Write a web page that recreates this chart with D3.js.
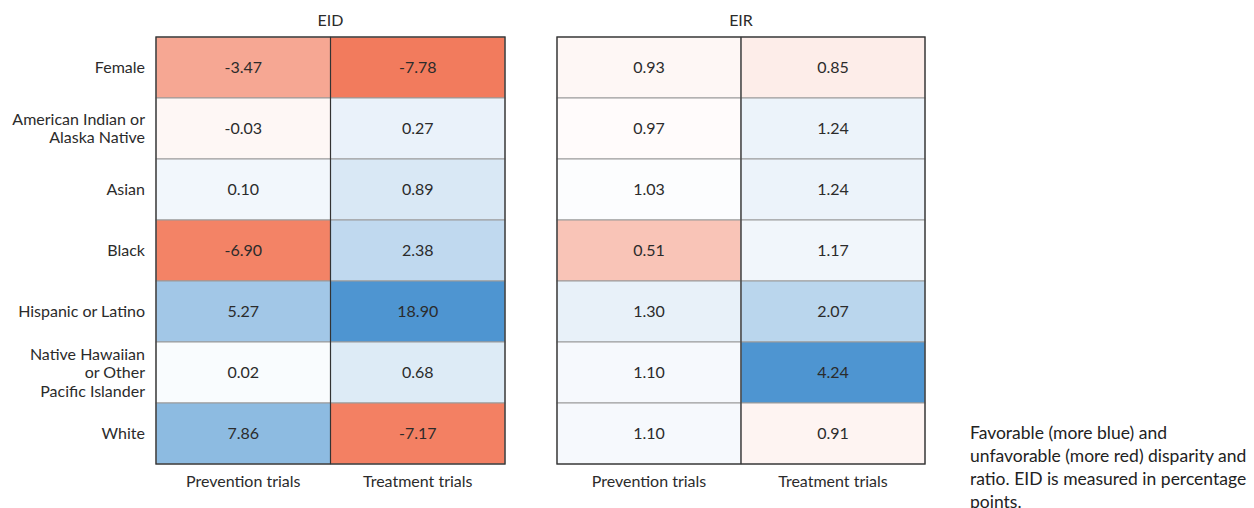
<!DOCTYPE html>
<html>
<head>
<meta charset="utf-8">
<script src="https://cdn.jsdelivr.net/npm/d3@7"></script>
<style>
  html, body { margin: 0; padding: 0; background: #fff; }
  svg { display: block; }
  text { font-family: "Lato", "Noto Sans", sans-serif; fill: #2b2b2b; }
</style>
</head>
<body>
<svg id="chart" width="1254" height="508"></svg>
<script>
// Row groups and trial types
const groups = [
  ["Female"],
  ["American Indian or", "Alaska Native"],
  ["Asian"],
  ["Black"],
  ["Hispanic or Latino"],
  ["Native Hawaiian", "or Other", "Pacific Islander"],
  ["White"]
];
const trialTypes = ["Prevention trials", "Treatment trials"];

// Enrollment incidence disparity (percentage points)
const eidPrevention = [-3.47, -0.03, 0.10, -6.90, 5.27, 0.02, 7.86];
const eidTreatment  = [-7.78, 0.27, 0.89, 2.38, 18.90, 0.68, -7.17];

// Enrollment incidence ratio
const eirPrevention = [0.93, 0.97, 1.03, 0.51, 1.30, 1.10, 1.10];
const eirTreatment  = [0.85, 1.24, 1.24, 1.17, 2.07, 4.24, 0.91];

const caption = [
  "Favorable (more blue) and",
  "unfavorable (more red) disparity and",
  "ratio. EID is measured in percentage",
  "points."
];

const RED = "#f27b5d", BLUE = "#4e95d1";
const FS = "16px";

const svg = d3.select("#chart");
const gridTop = 37, gridBottom = 464;

const y = d3.scaleBand().domain(d3.range(groups.length)).range([gridTop, gridBottom]);

// Row labels
const labelG = svg.append("g");
groups.forEach((lines, i) => {
  const cy = y(i) + y.bandwidth() / 2;
  const lh = 18.5;
  const t = labelG.append("text")
    .attr("x", 145)
    .attr("text-anchor", "end")
    .style("font-size", FS);
  lines.forEach((ln, k) => {
    t.append("tspan")
      .attr("x", 145)
      .attr("y", cy + (k - (lines.length - 1) / 2) * lh)
      .attr("dy", "0.35em")
      .text(ln);
  });
});

function drawPanel(title, x0, x1, prev, treat, color, fmt) {
  const g = svg.append("g");
  const x = d3.scaleBand().domain(trialTypes).range([x0, x1]);
  const cols = [prev, treat];

  g.append("text")
    .attr("x", (x0 + x1) / 2).attr("y", 20)
    .attr("text-anchor", "middle").attr("dy", "0.35em")
    .style("font-size", FS)
    .text(title);

  cols.forEach((vals, c) => {
    vals.forEach((v, r) => {
      g.append("rect")
        .attr("x", x(trialTypes[c])).attr("y", y(r))
        .attr("width", x.bandwidth()).attr("height", y.bandwidth())
        .attr("fill", color(v))
        .attr("stroke", "#9a9a9a").attr("stroke-width", 1);
      g.append("text")
        .attr("x", x(trialTypes[c]) + x.bandwidth() / 2)
        .attr("y", y(r) + y.bandwidth() / 2)
        .attr("dy", "0.35em").attr("text-anchor", "middle")
        .style("font-size", FS)
        .text(fmt(v));
    });
  });

  // column divider and outer frame
  g.append("line")
    .attr("x1", x(trialTypes[1])).attr("x2", x(trialTypes[1]))
    .attr("y1", gridTop).attr("y2", gridBottom)
    .attr("stroke", "#333").attr("stroke-width", 1.2);
  g.append("rect")
    .attr("x", x0).attr("y", gridTop)
    .attr("width", x1 - x0).attr("height", gridBottom - gridTop)
    .attr("fill", "none").attr("stroke", "#333").attr("stroke-width", 1.3);

  // column labels
  trialTypes.forEach(tt => {
    g.append("text")
      .attr("x", x(tt) + x.bandwidth() / 2).attr("y", 481)
      .attr("dy", "0.35em").attr("text-anchor", "middle")
      .style("font-size", FS)
      .text(tt);
  });
}

// EID colours: white at 0, square-root ramp toward each extreme
const eidAll = eidPrevention.concat(eidTreatment);
const eidMin = d3.min(eidAll), eidMax = d3.max(eidAll);
const eidRed = d3.scalePow().exponent(0.5).domain([0, -eidMin]).range([0, 1]);
const eidBlue = d3.scalePow().exponent(0.5).domain([0, eidMax]).range([0, 1]);
const eidColor = v => v < 0
  ? d3.interpolateRgb("#ffffff", RED)(eidRed(-v))
  : d3.interpolateRgb("#ffffff", BLUE)(eidBlue(v));

// EIR colours: white at 1, red toward 0, blue toward the maximum ratio
const eirAll = eirPrevention.concat(eirTreatment);
const eirMax = d3.max(eirAll);
const eirRed = d3.scaleLinear().domain([0, 1.1]).range([0, 1]).clamp(true);
const eirBlue = d3.scalePow().exponent(0.85).domain([0, eirMax - 1]).range([0, 1]).clamp(true);
const eirColor = v => v < 1
  ? d3.interpolateRgb("#ffffff", RED)(eirRed(1 - v))
  : d3.interpolateRgb("#ffffff", BLUE)(eirBlue(v - 1));

const fmt2 = d3.format(".2f");
const fmtSigned = v => fmt2(v).replace("−", "-");

drawPanel("EID", 156, 505, eidPrevention, eidTreatment, eidColor, fmtSigned);
drawPanel("EIR", 557, 925, eirPrevention, eirTreatment, eirColor, fmtSigned);

// Caption
const cap = svg.append("text")
  .attr("x", 970)
  .style("font-size", "17.5px")
  .style("fill", "#222");
caption.forEach((ln, i) => {
  cap.append("tspan").attr("x", 970).attr("y", 439 + i * 23).text(ln);
});
</script>
</body>
</html>
